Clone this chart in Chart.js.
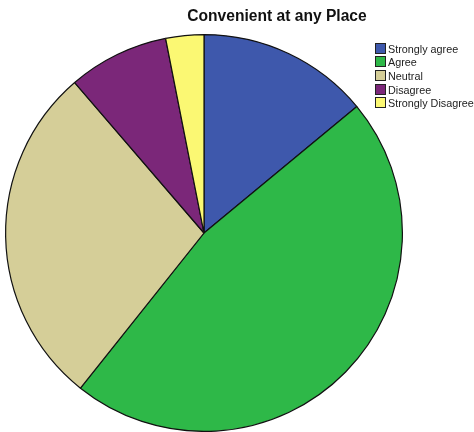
<!DOCTYPE html>
<html lang="en">
<head>
    <meta charset="UTF-8">
    <title>Convenient at any Place</title>
    <script src="https://cdn.jsdelivr.net/npm/chart.js"></script>
</head>
<style>
    body {
        margin: 0;
        background: #fff;
        font-family: "Liberation Sans", Arial, sans-serif;
    }
    .frame {
        position: relative;
        width: 474px;
        height: 432px;
        overflow: hidden;
    }
    h1 {
        position: absolute;
        top: 7px;
        left: 176px;
        width: 202px;
        margin: 0;
        font-size: 15.6px;
        font-weight: bold;
        text-align: center;
        color: #111;
        white-space: nowrap;
    }
    #legend {
        position: absolute;
        top: 42.5px;
        left: 375px;
        font-size: 10.8px;
        color: #222;
    }
    .item {
        height: 13.7px;
        line-height: 13px;
        white-space: nowrap;
    }
    .item span {
        display: inline-block;
        width: 9px;
        height: 9px;
        border: 1px solid #222;
        vertical-align: -1px;
        margin-right: 2px;
    }
</style>
<body>
    <div class="frame">
        <canvas id="pieChart" width="474" height="432"></canvas>
        <h1>Convenient at any Place</h1>
        <div id="legend"></div>
    </div>
    <script>
        // data (percent of answers)
        const categories = ['Strongly agree', 'Agree', 'Neutral', 'Disagree', 'Strongly Disagree'];
        const percents = [14.0, 46.7, 28.0, 8.2, 3.1];
        const colors = ['#3e58ac', '#2eb848', '#d5ce98', '#7b2779', '#fbf873'];

        const ctx = document.getElementById('pieChart').getContext('2d');
        const pieChart = new Chart(ctx, {
            type: 'pie',
            data: {
                labels: categories,
                datasets: [{
                    data: percents,
                    backgroundColor: colors,
                    borderColor: '#111',
                    borderWidth: 1.2
                }]
            },
            options: {
                responsive: false,
                animation: false,
                layout: { padding: { left: 5, right: 71, top: 34, bottom: 0 } },
                plugins: {
                    legend: { display: false },
                    tooltip: { enabled: false }
                }
            }
        });

        // simple legend next to the pie
        const legend = document.getElementById('legend');
        categories.forEach((name, i) => {
            const row = document.createElement('div');
            row.className = 'item';
            row.innerHTML = '<span style="background:' + colors[i] + '"></span>' + name;
            legend.appendChild(row);
        });
    </script>
</body>
</html>
